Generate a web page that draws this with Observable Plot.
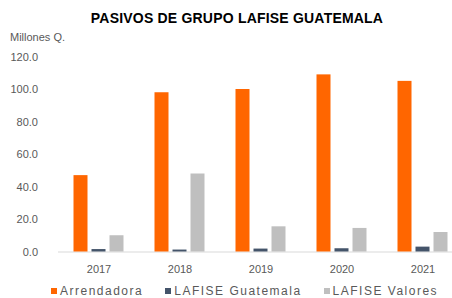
<!DOCTYPE html>
<html>
<head>
<meta charset="utf-8">
<script src="https://cdn.jsdelivr.net/npm/d3@7"></script>
<script src="https://cdn.jsdelivr.net/npm/@observablehq/plot@0.6"></script>
<style>
  html, body { margin: 0; padding: 0; background: #fff; }
  #wrap { position: relative; width: 452px; height: 298px; overflow: hidden; font-family: "Liberation Sans", Arial, sans-serif; }
  #title { position: absolute; top: 10px; left: 0; width: 474px; text-align: center; font-size: 14px; font-weight: bold; color: #000; white-space: nowrap; letter-spacing: 0.2px; }
  #unit { position: absolute; top: 31px; left: 10px; font-size: 11px; color: #595959; white-space: nowrap; }
  #chart { position: absolute; top: 28px; left: 0; }
  #legend { position: absolute; top: 285px; left: 51px; display: flex; gap: 22px; font-size: 12px; letter-spacing: 1.5px; color: #595959; white-space: nowrap; line-height: 12px; }
  #legend .item { display: flex; align-items: center; gap: 3px; }
  #legend .sw { width: 6px; height: 6px; display: inline-block; }
</style>
</head>
<body>
<div id="wrap">
  <div id="title">PASIVOS DE GRUPO LAFISE GUATEMALA</div>
  <div id="unit">Millones Q.</div>
  <div id="chart"></div>
  <div id="legend"></div>
</div>
<script>
const years = ["2017", "2018", "2019", "2020", "2021"];
const series = ["Arrendadora", "LAFISE Guatemala", "LAFISE Valores"];
const arrendadora = [47, 98, 100, 109, 105];
const lafiseGuatemala = [1.5, 1.2, 1.8, 2, 3];
const lafiseValores = [10, 48, 15.5, 14.5, 12];
const colors = ["#FF6600", "#44546A", "#BFBFBF"];
const yTicks = [0, 20, 40, 60, 80, 100, 120];

const valuesBySeries = [arrendadora, lafiseGuatemala, lafiseValores];
const data = [];
years.forEach((yr, i) => {
  series.forEach((s, j) => data.push({year: yr, series: s, value: valuesBySeries[j][i]}));
});

const chart = Plot.plot({
  width: 452,
  height: 248,
  marginTop: 28.5,
  marginBottom: 24.5,
  marginLeft: 57.5,
  marginRight: -10.5,
  style: {fontFamily: "'Liberation Sans', Arial, sans-serif", fontSize: "11px", color: "#595959", background: "transparent"},
  fx: {domain: years, padding: 0, label: null, axis: "bottom", tickSize: 0, tickPadding: 13.5},
  x: {domain: series, paddingInner: 0.25, paddingOuter: 0.875, axis: null},
  y: {domain: [0, 120], ticks: yTicks, tickFormat: d => d.toFixed(1), tickSize: 0, tickPadding: 20.5, label: null},
  color: {domain: series, range: colors},
  marks: [
    Plot.ruleY([0], {stroke: "#D9D9D9"}),
    Plot.barY(data, {fx: "year", x: "series", y: "value", fill: "series"})
  ]
});
document.getElementById("chart").appendChild(chart);

const legend = document.getElementById("legend");
series.forEach((s, j) => {
  const item = document.createElement("div");
  item.className = "item";
  const sw = document.createElement("span");
  sw.className = "sw";
  sw.style.background = colors[j];
  const t = document.createElement("span");
  t.textContent = s;
  item.appendChild(sw);
  item.appendChild(t);
  legend.appendChild(item);
});
</script>
</body>
</html>
